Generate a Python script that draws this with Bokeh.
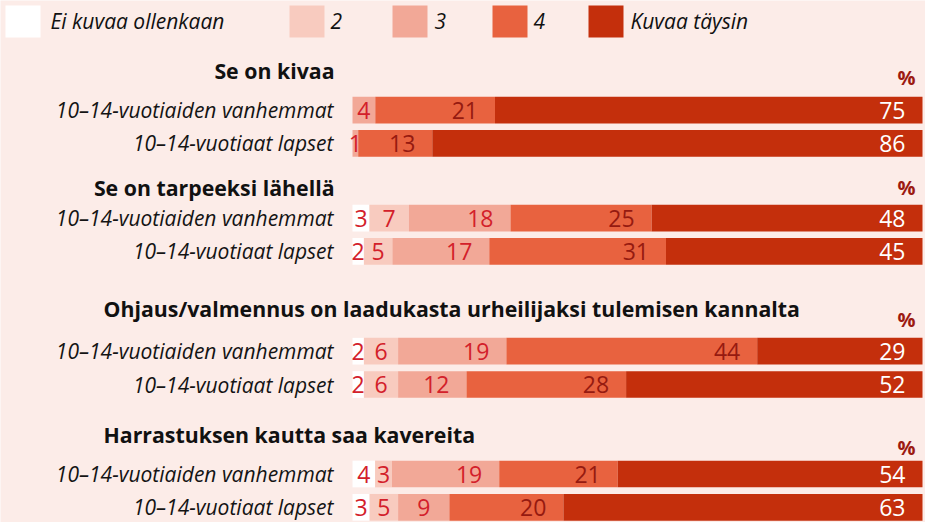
from bokeh.plotting import figure
from bokeh.models import Range1d, ColumnDataSource
from bokeh.core.properties import value
from bokeh.embed import file_html
from bokeh.resources import INLINE

# ---------------- data ----------------
categories = [
    "Se on kivaa",
    "Se on tarpeeksi lähellä",
    "Ohjaus/valmennus on laadukasta urheilijaksi tulemisen kannalta",
    "Harrastuksen kautta saa kavereita",
]
respondents = ["10–14-vuotiaiden vanhemmat", "10–14-vuotiaat lapset"]
legend_labels = ["Ei kuvaa ollenkaan", "2", "3", "4", "Kuvaa täysin"]

# one entry per bar: (cat0 parents, cat0 kids, cat1 parents, cat1 kids, ...)
level1 = [0, 0, 3, 2, 2, 2, 4, 3]
level2 = [0, 0, 7, 5, 6, 6, 3, 5]
level3 = [4, 1, 18, 17, 19, 12, 19, 9]
level4 = [21, 13, 25, 31, 44, 28, 21, 20]
level5 = [75, 86, 48, 45, 29, 52, 54, 63]

# ---------------- styles / layout ----------------
BG = "#fcece8"
SEG_COLORS = ["#ffffff", "#f8cbbf", "#f2a897", "#e8623f", "#c42f0c"]
SEG_TEXT = ["#d3202a", "#d3202a", "#d3202a", "#961a10", "#ffffff"]
FONT = "Open Sans"

W, H = 925, 522
BAR_X0, BAR_X1 = 352, 922
PX = (BAR_X1 - BAR_X0) / 100.0

GROUP_ROW1 = [109.6, 217.6, 350.7, 473.5]
TITLE_Y = [70.0, 186.5, 308.3, 434.2]
TITLE_ALIGN = ["right", "right", "left", "left"]
TITLE_LEFT_PX = 103
PCT_Y = [77.0, 186.5, 319.0, 446.5]
ROW_PITCH = 33.3
BAR_H = 26.7

LEG_BOX_X = [5, 289, 392, 492, 588]
LEG_TXT_DX = [45, 41, 42, 41, 42]
LEG_BOX_W, LEG_Y0, LEG_Y1 = 35, 5, 37


def px2x(px):
    return (px - BAR_X0) / PX


p = figure(width=W, height=H, output_backend="svg", toolbar_location=None,
           x_range=Range1d(px2x(0), px2x(W)), y_range=Range1d(H, 0),
           min_border=0, background_fill_color=BG, border_fill_color=BG,
           outline_line_color=None)
p.xaxis.visible = False
p.yaxis.visible = False
p.grid.visible = False

levels = [level1, level2, level3, level4, level5]

bar_y, bar_l, bar_r, bar_c = [], [], [], []
t_x, t_y, t_txt, t_col, t_align, t_off = [], [], [], [], [], []
for i in range(len(level5)):
    g, r = divmod(i, 2)
    y = GROUP_ROW1[g] + r * ROW_PITCH
    total = sum(lv[i] for lv in levels)
    cum = 0
    for k, lv in enumerate(levels):
        v = lv[i]
        if v <= 0:
            continue
        left = cum / total * 100
        cum += v
        right = cum / total * 100
        bar_y.append(y)
        bar_l.append(left)
        bar_r.append(right)
        bar_c.append(SEG_COLORS[k])
        t_txt.append(str(v))
        t_y.append(y)
        t_col.append(SEG_TEXT[k])
        if (right - left) * PX >= 60:
            t_x.append(right)
            t_align.append("right")
            t_off.append(-17)
        else:
            t_x.append((left + right) / 2)
            t_align.append("center")
            t_off.append(0)

p.hbar(y="y", left="l", right="r", height=BAR_H, fill_color="c", line_color=None,
       source=ColumnDataSource(dict(y=bar_y, l=bar_l, r=bar_r, c=bar_c)))

p.text(x="x", y="y", text="t", text_color="c", text_align="a", x_offset="o",
       text_baseline="middle", text_font=value(FONT), text_font_size="23px",
       source=ColumnDataSource(dict(x=t_x, y=t_y, t=t_txt, c=t_col, a=t_align, o=t_off)))

# row labels
rl_y, rl_t = [], []
for i in range(len(level5)):
    g, r = divmod(i, 2)
    rl_y.append(GROUP_ROW1[g] + r * ROW_PITCH)
    rl_t.append(respondents[r])
p.text(x=[0] * len(rl_y), y=rl_y, text=rl_t, x_offset=-19, text_align="right",
       text_baseline="middle", text_font=value(FONT), text_font_style="italic",
       text_font_size="21px", text_color="#141414")

# group titles
title_x = [0 if a == "right" else px2x(TITLE_LEFT_PX) for a in TITLE_ALIGN]
title_off = [-18 if a == "right" else 0 for a in TITLE_ALIGN]
p.text(x=title_x, y=TITLE_Y, text=categories, text_align=TITLE_ALIGN, x_offset=title_off,
       text_baseline="middle", text_font=value(FONT), text_font_style="bold",
       text_font_size="21.3px", text_color="#111111")

# percent signs
p.text(x=[100] * 4, y=PCT_Y, text=["%"] * 4, x_offset=-7, text_align="right",
       text_baseline="middle", text_font=value(FONT), text_font_style="bold",
       text_font_size="20px", text_color="#9c1a12")

# legend
lb_l = [px2x(v) for v in LEG_BOX_X]
lb_r = [px2x(v + LEG_BOX_W) for v in LEG_BOX_X]
p.quad(left=lb_l, right=lb_r, top=[LEG_Y0] * 5, bottom=[LEG_Y1] * 5,
       fill_color=SEG_COLORS, line_color=None)
p.text(x=[px2x(v + d) for v, d in zip(LEG_BOX_X, LEG_TXT_DX)],
       y=[(LEG_Y0 + LEG_Y1) / 2 - 1] * 5, text=legend_labels, text_align="left",
       text_baseline="middle", text_font=value(FONT), text_font_style="italic",
       text_font_size="21px", text_color="#111111")

open("out.html", "w").write(file_html(p, INLINE))
